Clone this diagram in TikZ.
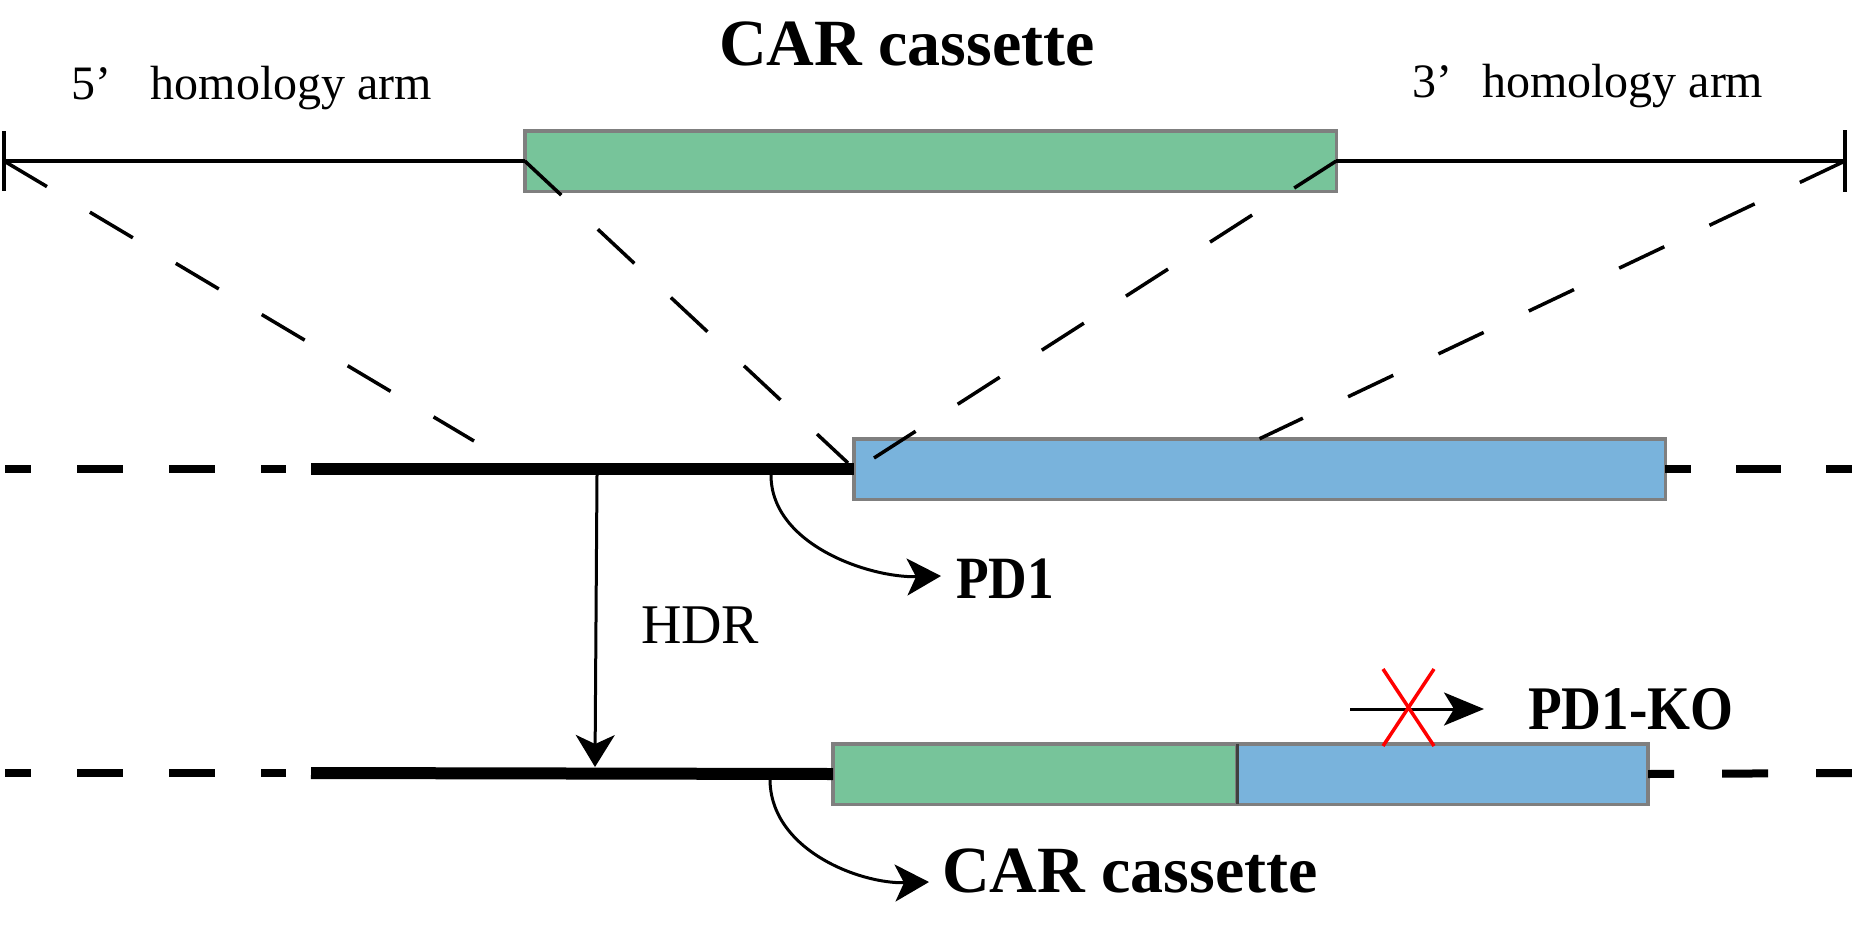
\documentclass[tikz,border=0pt]{standalone}
\usepackage{fontspec}
\setmainfont{Liberation Serif}
\usetikzlibrary{arrows.meta}
\definecolor{cargreen}{RGB}{119,196,154}
\definecolor{pdblue}{RGB}{121,179,220}
\definecolor{boxgray}{RGB}{127,127,127}
\definecolor{divgray}{RGB}{64,64,64}
\begin{document}
\begin{tikzpicture}[x=1pt,y=-1pt,
  lbl/.style={inner sep=0pt, outer sep=0pt, anchor=base west, text=black},
  segbox/.style={rectangle, draw=boxgray, line width=3.5pt, inner sep=0pt, outer sep=0pt, minimum height=60.5pt},
  armline/.style={line width=3.5pt},
  diag/.style={line width=3.5pt, dash pattern=on 50pt off 50pt},
  thickdash/.style={line width=8pt, dash pattern=on 46pt off 46pt},
  dna/.style={line width=12pt},
  tip/.style={-{Stealth[length=34pt,width=37pt,inset=9pt]}, line width=3pt},
  tipko/.style={-{Stealth[length=40pt,width=33pt,inset=10pt]}, line width=3pt},
  tiphdr/.style={-{Stealth[length=32pt,width=39pt,inset=9pt]}, line width=3pt}
]
\useasboundingbox (0,0) rectangle (1852,929);

% ---- labels ----
\node[lbl, font=\fontsize{66}{70}\selectfont\bfseries] (title) at (719,65) {CAR cassette};
\node[lbl, font=\fontsize{48}{54}\selectfont] (arm5) at (71,99) {5’\hspace{40pt}homology arm};
\node[lbl, font=\fontsize{48}{54}\selectfont] (arm3) at (1412,97) {3’\hspace{30pt}homology arm};
\node[lbl, font=\fontsize{56}{60}\selectfont] (hdr) at (641,643) {HDR};
\node[lbl, font=\fontsize{60}{64}\selectfont\bfseries] (pdlbl) at (956,598) {\scalebox{0.89}[1]{PD1}};
\node[lbl, font=\fontsize{62}{66}\selectfont\bfseries] (kolbl) at (1528,729) {\scalebox{0.89}[1]{PD1-KO}};
\node[lbl, font=\fontsize{66}{70}\selectfont\bfseries] (carlbl) at (942,892) {CAR cassette};

% ---- donor (top) ----
\coordinate (L5) at (4,161);
\coordinate (R3) at (1845,161);
\node[segbox, fill=cargreen, minimum width=811.5pt] (cas) at (930.5,161) {};
\draw[armline] (L5) -- (cas.west);
\draw[armline] (cas.east) -- (R3);
\draw[armline] ([yshift=30pt]L5) -- ([yshift=-30pt]L5);
\draw[armline] ([yshift=31pt]R3) -- ([yshift=-31pt]R3);

% ---- genomic locus (line 1) ----
\coordinate (g1a) at (5,469);
\coordinate (g1b) at (286,469);
\coordinate (g1c) at (311,469);
\coordinate (g1d) at (1852,469);
\node[segbox, fill=pdblue, minimum width=811.5pt] (pd) at (1259.5,469) {};
\draw[thickdash, dash phase=20pt] (g1a) -- (g1b);
\draw[dna] (g1c) -- (pd.west);
\draw[thickdash, dash phase=19pt, dash pattern=on 45pt off 45pt] (pd.east) -- (g1d);

% ---- edited locus (line 2) ----
\coordinate (g2a) at (5,773);
\coordinate (g2b) at (286,773);
\coordinate (g2c) at (311,773);
\coordinate (g2d) at (1852,773);
\node[segbox, fill=cargreen, minimum width=404pt] (cas2) at (1035,774) {};
\node[segbox, fill=pdblue, minimum width=411pt] (pd2) at (1442.5,774) {};
\draw[line width=3pt, divgray] (cas2.north east) -- (cas2.south east);
\draw[thickdash, dash phase=20pt] (g2a) -- (g2b);
\draw[dna] (g2c) -- (cas2.west);
\draw[thickdash, dash phase=20pt, dash pattern=on 46pt off 48pt] (pd2.east) -- (g2d);

% ---- homology dashed guides ----
\coordinate (a1) at (474,441);
\coordinate (b1) at (848,463);
\coordinate (c1) at (874,458);
\draw[diag] (L5) -- (a1);
\draw[diag] (cas.west) -- (b1);
\draw[diag] (cas.east) -- (c1);
\draw[diag] (R3) -- (pd.north);

% ---- arrows ----
\coordinate (h1) at (597,475);
\coordinate (h2) at (595,767);
\draw[tiphdr] (h1) -- (h2);

\coordinate (p1) at (771,475);
\coordinate (p2) at (941,576);
\draw[tip] (p1) .. controls (771,545) and (870,578) .. (p2);

\coordinate (q1) at (770,779);
\coordinate (q2) at (929,882);
\draw[tip] (q1) .. controls (770,850) and (860,884) .. (q2);

\coordinate (k1) at (1350,709);
\coordinate (k2) at (1484,709);
\draw[tipko] (k1) -- (k2);
\draw[red, line width=3.5pt] (1383,669) -- (1434,746);
\draw[red, line width=3.5pt] (1434,669) -- (1383,746);
\end{tikzpicture}
\end{document}
